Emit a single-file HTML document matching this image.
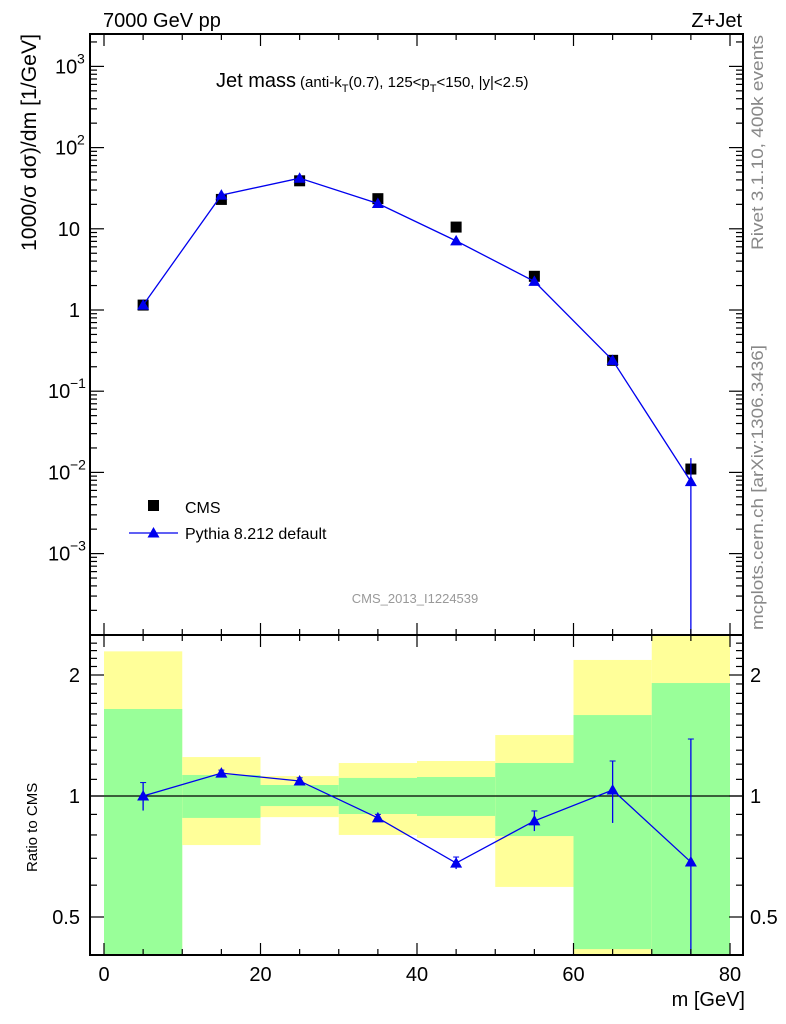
<!DOCTYPE html>
<html><head><meta charset="utf-8"><style>
body{margin:0;background:#fff;}
svg{display:block;font-family:"Liberation Sans",sans-serif;}
</style></head><body>
<svg id="c" width="786" height="1024" viewBox="0 0 786 1024" xmlns="http://www.w3.org/2000/svg">
<g id="bands"></g><g id="marks"></g><g id="axes"></g>
</svg>
<script>
const binEdges=[0,10,20,30,40,50,60,70,80];
const xCenters=[5,15,25,35,45,55,65,75];
const cmsValues=[1.15,23,39,23.5,10.5,2.6,0.24,0.011];
const pythiaValues=[1.15,26,42,20.5,7.1,2.25,0.24,0.0077];
const pythiaErrHi=[1.2,27,44,21.3,7.4,2.35,0.27,0.015];
const pythiaErrLo=[1.1,25,40,19.7,6.8,2.15,0.21,0.00001];
const ratioValues=[1.0,1.14,1.09,0.882,0.681,0.867,1.035,0.685];
const ratioErrHi=[1.08,1.16,1.11,0.9,0.705,0.918,1.222,1.386];
const ratioErrLo=[0.92,1.12,1.07,0.865,0.658,0.818,0.857,0.01];
const yellowHi=[2.29,1.25,1.121,1.208,1.222,1.418,2.18,2.6];
const yellowLo=[0.4,0.755,0.886,0.8,0.786,0.594,0.4,0.4];
const greenHi=[1.646,1.128,1.065,1.109,1.115,1.208,1.59,1.91];
const greenLo=[0.4,0.882,0.944,0.902,0.892,0.795,0.416,0.4];
const mainTicks=[3,2,1,0,-1,-2,-3];
const xTicks=[0,20,40,60,80];

const NS="http://www.w3.org/2000/svg";
const L=90,R=743,T=34,M=635,B=955;
const X=v=>104+(v/80)*626;
const Y=v=>310-Math.log10(v)*81.2;
const RY=v=>796-Math.log2(v)*121;
const cRY=v=>Math.min(B,Math.max(M,RY(v)));
const cY=v=>Math.min(M,Math.max(T,Y(v)));
function mk(p,tag,a,txt){const e=document.createElementNS(NS,tag);for(const k in a)e.setAttribute(k,a[k]);if(txt!==undefined)e.textContent=txt;document.getElementById(p).appendChild(e);return e;}

for(let i=0;i<8;i++){
 let e=mk('bands','rect',{x:X(binEdges[i]),y:cRY(yellowHi[i]),width:X(binEdges[i+1])-X(binEdges[i]),height:cRY(yellowLo[i])-cRY(yellowHi[i]),fill:'#ffff99'});
 
 
 let g=mk('bands','rect',{x:X(binEdges[i]),y:cRY(greenHi[i]),width:X(binEdges[i+1])-X(binEdges[i]),height:cRY(greenLo[i])-cRY(greenHi[i]),fill:'#99ff99'});
 
 
}
mk('bands','line',{x1:L,x2:R,y1:RY(1),y2:RY(1),stroke:'#000','stroke-width':1.3});

function tri(p,cx,cy,name){const s=6;const e=mk(p,'polygon',{points:`${cx},${cy-s} ${cx-s},${cy+4.5} ${cx+s},${cy+4.5}`,fill:'#0000ee'});
 
 }

for(let i=0;i<8;i++){
 const e=mk('marks','rect',{x:X(xCenters[i])-5.5,y:Y(cmsValues[i])-5.5,width:11,height:11,fill:'#000'});
 
 
}
let pts=xCenters.map((x,i)=>X(x)+','+Y(pythiaValues[i])).join(' ');
mk('marks','polyline',{points:pts,fill:'none',stroke:'#0000ee','stroke-width':1.3});
for(let i=0;i<8;i++){
 mk('marks','line',{x1:X(xCenters[i]),x2:X(xCenters[i]),y1:cY(pythiaErrHi[i]),y2:cY(pythiaErrLo[i]),stroke:'#0000ee','stroke-width':1.3});
 tri('marks',X(xCenters[i]),Y(pythiaValues[i]),'pythia-point');
}
pts=xCenters.map((x,i)=>X(x)+','+RY(ratioValues[i])).join(' ');
mk('marks','polyline',{points:pts,fill:'none',stroke:'#0000ee','stroke-width':1.3});
for(let i=0;i<8;i++){
 const cx=X(xCenters[i]);
 mk('marks','line',{x1:cx,x2:cx,y1:cRY(ratioErrHi[i]),y2:cRY(ratioErrLo[i]),stroke:'#0000ee','stroke-width':1.3});
 mk('marks','line',{x1:cx-3,x2:cx+3,y1:cRY(ratioErrHi[i]),y2:cRY(ratioErrHi[i]),stroke:'#0000ee','stroke-width':1});
 tri('marks',cx,RY(ratioValues[i]),'ratio-point');
}

mk('axes','rect',{x:L,y:T,width:R-L,height:M-T,fill:'none',stroke:'#000','stroke-width':2});
mk('axes','rect',{x:L,y:M,width:R-L,height:B-M,fill:'none',stroke:'#000','stroke-width':2});
for(let v=0;v<=80;v+=5){
 const big=v%20===0, x=X(v);
 const len=big?12:6;
 for(const [y0,d] of [[B,-1],[M,-1],[M,1],[T,1]]){mk('axes','line',{x1:x,x2:x,y1:y0,y2:y0+d*len,stroke:'#000','stroke-width':1.2});}
}
for(const v of xTicks){const t=mk('axes','text',{x:X(v),y:981,'font-size':20,'text-anchor':'middle'},String(v));
 
 }
for(let d=-4;d<=3;d++){
 for(let m=1;m<10;m++){const v=m*Math.pow(10,d);const y=Y(v);if(y<T||y>M)continue;
  const len=m===1?14:7;
  mk('axes','line',{x1:L,x2:L+len,y1:y,y2:y,stroke:'#000','stroke-width':1.2});
  mk('axes','line',{x1:R,x2:R-len,y1:y,y2:y,stroke:'#000','stroke-width':1.2});}
}
for(const d of mainTicks){
 let t;
 if(d===0) t=mk('axes','text',{x:80,y:Y(1)+7,'font-size':20,'text-anchor':'end'},'1');
 else if(d===1) t=mk('axes','text',{x:80,y:Y(10)+7,'font-size':20,'text-anchor':'end'},'10');
 else {
  t=mk('axes','text',{x:d<0?48:55,y:Y(Math.pow(10,d))+7,'font-size':20},'10');
  mk('axes','text',{x:d<0?70:77,y:Y(Math.pow(10,d))-3,'font-size':14},String(d).replace('-','−'));}
 
 
}
for(let r=0.5;r<=2.5;r+=0.1){const y=RY(r);if(y<M||y>B)continue;
 const major=Math.abs(r-0.5)<1e-6||Math.abs(r-1)<1e-6||Math.abs(r-2)<1e-6;const len=major?14:7;
 mk('axes','line',{x1:L,x2:L+len,y1:y,y2:y,stroke:'#000','stroke-width':1.2});
 mk('axes','line',{x1:R,x2:R-len,y1:y,y2:y,stroke:'#000','stroke-width':1.2});}
for(const [v,s] of [[2,'2'],[1,'1'],[0.5,'0.5']]){
 mk('axes','text',{x:80,y:RY(v)+7,'font-size':20,'text-anchor':'end'},s);
 mk('axes','text',{x:750,y:RY(v)+7,'font-size':20},s);
}
</script>
<svg style="position:absolute;left:0;top:0" width="786" height="1024" xmlns="http://www.w3.org/2000/svg">
<g font-family="Liberation Sans, sans-serif">
<text x="103" y="27" font-size="20">7000 GeV pp</text>
<text x="742" y="27" font-size="20" text-anchor="end">Z+Jet</text>
<text x="216" y="87" font-size="20">Jet mass<tspan font-size="15" dx="4">(anti-k</tspan><tspan font-size="11" dy="5">T</tspan><tspan font-size="15" dy="-5">(0.7), 125&lt;p</tspan><tspan font-size="11" dy="5">T</tspan><tspan font-size="15" dy="-5">&lt;150, |y|&lt;2.5)</tspan></text>
<text transform="translate(36,251) rotate(-90)" font-size="21" textLength="217" lengthAdjust="spacingAndGlyphs">1000/σ dσ)/dm [1/GeV]</text>
<text transform="translate(37,872) rotate(-90)" font-size="15">Ratio to CMS</text>
<text x="745" y="1006" font-size="20" text-anchor="end">m [GeV]</text>
<text transform="translate(763,250) rotate(-90)" font-size="17" fill="#888" textLength="215" lengthAdjust="spacingAndGlyphs">Rivet 3.1.10,  400k events</text>
<text transform="translate(763,630) rotate(-90)" font-size="17" fill="#888" textLength="285" lengthAdjust="spacingAndGlyphs">mcplots.cern.ch [arXiv:1306.3436]</text>
<text x="415" y="603" font-size="13" fill="#999" text-anchor="middle">CMS_2013_I1224539</text>
<rect x="148" y="500" width="11" height="11" fill="#000"/>
<text x="185" y="513" font-size="16">CMS</text>
<line x1="129" x2="178" y1="533" y2="533" stroke="#0000ee" stroke-width="1.3"/>
<polygon points="153.5,527 147.5,537.5 159.5,537.5" fill="#0000ee"/>
<text x="185" y="539" font-size="16">Pythia 8.212 default</text>
</g></svg>
</body></html>
